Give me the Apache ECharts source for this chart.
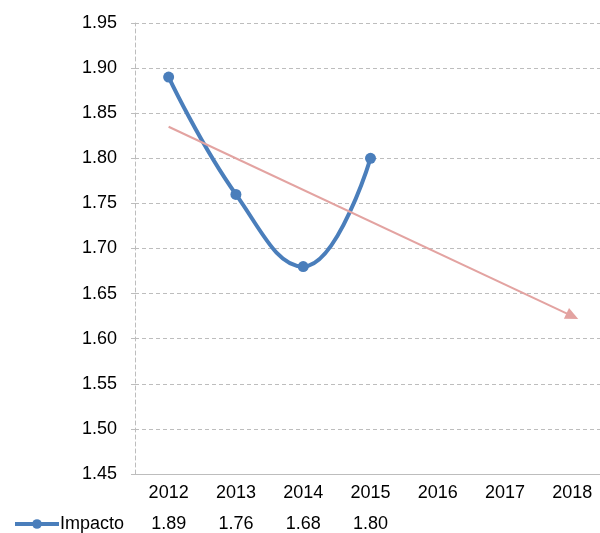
<!DOCTYPE html>
<html>
<head>
<meta charset="utf-8">
<script src="https://cdn.jsdelivr.net/npm/echarts@6/dist/echarts.min.js"></script>
<style>
  html, body { margin: 0; padding: 0; background: #fff; }
  #chart { width: 600px; height: 533px; }
</style>
</head>
<body>
<div id="chart"></div>
<script>
// Years on the category axis
const years = ['2012', '2013', '2014', '2015', '2016', '2017', '2018'];
// Impacto values (2012–2015)
const impacto = [1.89, 1.76, 1.68, 1.80];
// Linear trend endpoints (2012 and 2018)
const trendYears = ['2012', '2018'];
const trendValues = [1.835, 1.625];
// Value axis range
const yMin = 1.45, yMax = 1.95, yStep = 0.05;

const FONT = 'Liberation Sans';
const FS = 18;
const gridColor = '#BDBDBD';

// Data-table row: one cell per year, blank where no value exists
const tableRow = years.map((y, i) => (i < impacto.length ? impacto[i].toFixed(2) : ''));

const chart = echarts.init(document.getElementById('chart'));
chart.setOption({
  backgroundColor: '#fff',
  animation: false,
  textStyle: { fontFamily: FONT },
  grid: {
    left: 135, top: 23, width: 471, height: 451,
    containLabel: false,
    outerBoundsMode: 'none'
  },
  legend: {
    data: ['Impacto'],
    left: 8,
    top: 510,
    itemWidth: 44,
    itemHeight: 12,
    itemGap: 4,
    lineStyle: { width: 4 },
    textStyle: { fontFamily: FONT, fontSize: FS, color: '#000', padding: [0, 0, 0, -4] }
  },
  xAxis: [
    {
      type: 'category',
      data: years,
      boundaryGap: true,
      axisLine: { show: true, lineStyle: { color: gridColor, width: 1 } },
      axisTick: { show: false },
      axisLabel: { color: '#000', fontSize: FS, fontFamily: FONT, margin: 10, interval: 0 },
      splitLine: { show: false }
    },
    {
      type: 'category',
      data: tableRow,
      position: 'bottom',
      offset: 30,
      boundaryGap: true,
      axisLine: { show: false },
      axisTick: { show: false },
      axisLabel: { color: '#000', fontSize: FS, fontFamily: FONT, margin: 11, interval: 0 },
      splitLine: { show: false }
    }
  ],
  yAxis: {
    type: 'value',
    min: yMin,
    max: yMax,
    interval: yStep,
    axisLine: { show: true, lineStyle: { color: gridColor, type: [4, 3], width: 1 } },
    axisTick: { show: true, inside: false, length: 6, lineStyle: { color: gridColor, type: [4, 3] } },
    axisLabel: {
      color: '#000', fontSize: FS, fontFamily: FONT, margin: 18,
      formatter: v => v.toFixed(2)
    },
    splitLine: { show: true, lineStyle: { color: gridColor, type: [4, 3], width: 1 } }
  },
  series: [
    {
      name: 'Impacto',
      type: 'line',
      xAxisIndex: 0,
      data: impacto,
      smooth: 0.45,
      symbol: 'circle',
      symbolSize: 11,
      itemStyle: { color: '#4A7EBB' },
      lineStyle: { color: '#4A7EBB', width: 4 },
      z: 3
    },
    {
      name: 'Tendencia',
      type: 'line',
      xAxisIndex: 0,
      data: [],
      silent: true,
      z: 2,
      markLine: {
        silent: true,
        symbol: ['none', 'triangle'],
        symbolSize: [12, 13],
        label: { show: false },
        lineStyle: { color: '#E3A3A1', width: 2, type: 'solid' },
        data: [[
          { coord: [trendYears[0], trendValues[0]] },
          { coord: [trendYears[1], trendValues[1]] }
        ]]
      }
    }
  ]
});
</script>
</body>
</html>
